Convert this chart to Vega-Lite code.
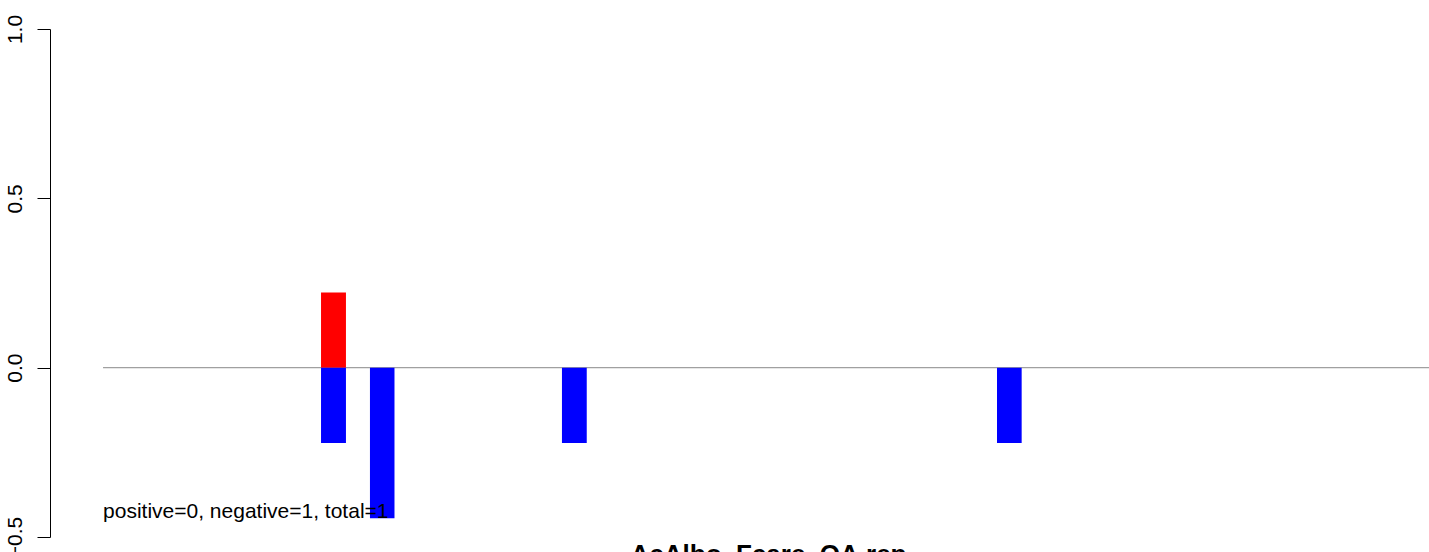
{
  "$schema": "https://vega.github.io/schema/vega-lite/v6.json",
  "autosize": {"type": "none"},
  "width": 1379,
  "height": 508,
  "padding": {"left": 50, "top": 29, "right": 0, "bottom": 15},
  "background": "white",
  "config": {
    "view": {"stroke": null},
    "font": "Liberation Sans"
  },
  "datasets": {
    "bars": [
      {"start": 16.44, "end": 18.32, "value": 0.2222, "sign": "positive"},
      {"start": 16.44, "end": 18.32, "value": -0.2222, "sign": "negative"},
      {"start": 20.13, "end": 21.98, "value": -0.4444, "sign": "negative"},
      {"start": 34.61, "end": 36.48, "value": -0.2222, "sign": "negative"},
      {"start": 67.42, "end": 69.28, "value": -0.2222, "sign": "negative"}
    ],
    "baseline": [{"from": 0, "to": 100, "level": 0}],
    "note": [{"pos": 0, "level": -0.426, "label": "positive=0, negative=1, total=1"}]
  },
  "layer": [
    {
      "data": {"name": "baseline"},
      "mark": {"type": "rule", "color": "#a0a0a0", "strokeWidth": 1.3},
      "encoding": {
        "x": {"field": "from", "type": "quantitative", "scale": {"domain": [-4, 100], "nice": false, "zero": false},
              "axis": {"labels": false, "ticks": false, "domain": false, "grid": false,
                       "title": "AcAlbo_Fcare_QA.rep", "titleFontSize": 26, "titleFontWeight": "bold",
                       "titleColor": "black", "titleX": 718, "titleY": 4, "titleBaseline": "top", "titleAlign": "center"}},
        "x2": {"field": "to"},
        "y": {"field": "level", "type": "quantitative", "scale": {"domain": [-0.5, 1.0], "nice": false, "zero": false},
              "axis": {"values": [-0.5, 0, 0.5, 1.0], "format": ".1f", "title": null, "grid": false,
                       "tickSize": 13, "tickColor": "black", "domainColor": "black", "tickWidth": 1, "domainWidth": 1,
                       "labelAngle": 270, "labelAlign": "center", "labelBaseline": "bottom", "labelPadding": 12,
                       "labelFontSize": 21, "labelColor": "black"}}
      }
    },
    {
      "data": {"name": "bars"},
      "mark": {"type": "rect"},
      "encoding": {
        "x": {"field": "start", "type": "quantitative"},
        "x2": {"field": "end"},
        "y": {"field": "value", "type": "quantitative"},
        "y2": {"datum": 0},
        "color": {"field": "sign", "type": "nominal", "scale": {"domain": ["positive", "negative"], "range": ["#ff0000", "#0000ff"]}, "legend": null}
      }
    },
    {
      "data": {"name": "note"},
      "mark": {"type": "text", "align": "left", "baseline": "middle", "fontSize": 21, "color": "black"},
      "encoding": {
        "x": {"field": "pos", "type": "quantitative"},
        "y": {"field": "level", "type": "quantitative"},
        "text": {"field": "label"}
      }
    }
  ]
}
